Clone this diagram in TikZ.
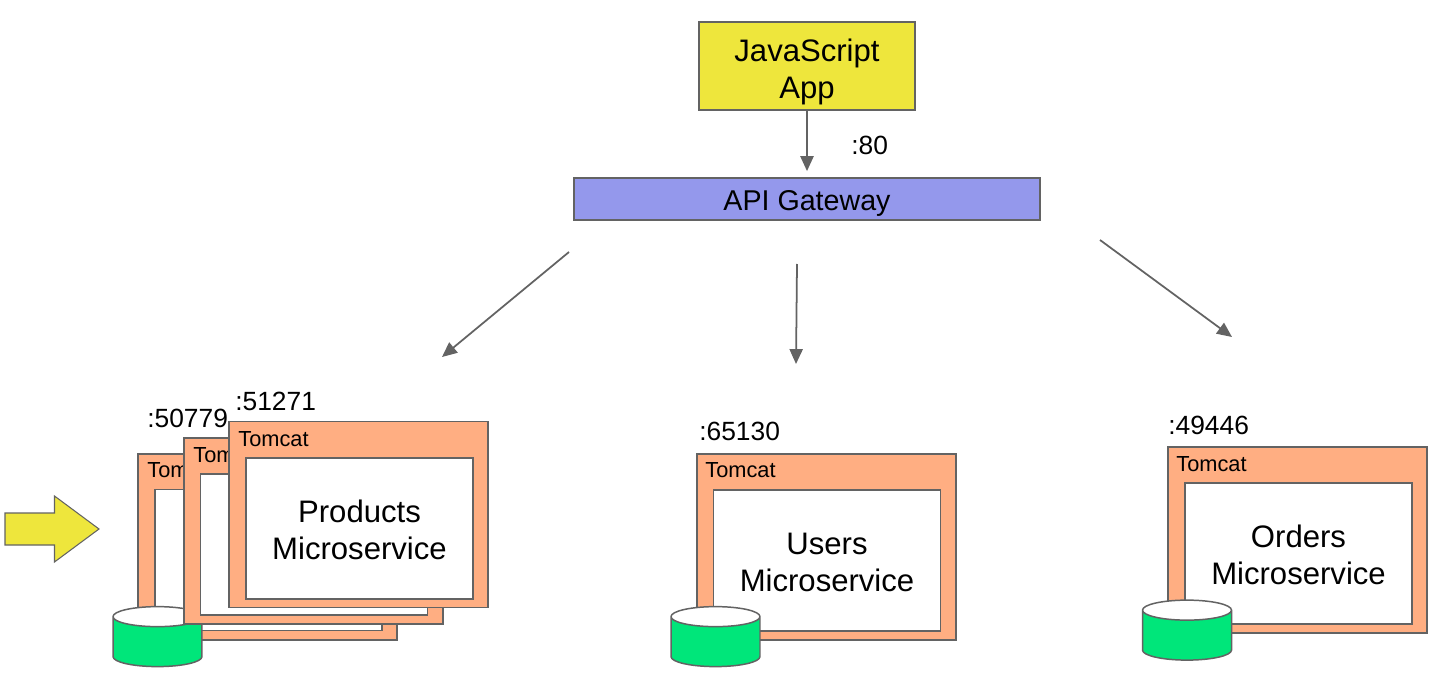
\documentclass[tikz,border=0pt]{standalone}
\usepackage{fontspec}
\setmainfont{Liberation Sans}
\usetikzlibrary{arrows.meta,shapes.geometric}

\definecolor{appyellow}{HTML}{EEE63C}
\definecolor{gatewayblue}{HTML}{9498EC}
\definecolor{tomcatorange}{HTML}{FFAE82}
\definecolor{dbgreen}{HTML}{00E67A}
\definecolor{edgegray}{HTML}{636363}

\tikzset{
  box/.style={draw=edgegray,line width=.85pt,inner sep=0pt,align=center},
  app/.style={box,fill=appyellow,minimum width=4.32cm,minimum height=1.76cm,text height=40.5pt,font=\fontsize{17.7}{21}\selectfont},
  gateway/.style={box,fill=gatewayblue,minimum width=9.32cm,minimum height=.84cm,text height=16.5pt,font=\fontsize{16.3}{20}\selectfont},
  tomcat/.style={box,fill=tomcatorange,minimum width=5.18cm,minimum height=3.72cm},
  service/.style={box,fill=white,minimum width=4.54cm,minimum height=2.82cm,text height=35.6pt,font=\fontsize{17.7}{21.2}\selectfont},
  tomcatlabel/.style={inner sep=0pt,anchor=base west,font=\fontsize{12.4}{14}\selectfont},
  port/.style={inner sep=0pt,anchor=base west,font=\fontsize{15}{18}\selectfont},
  db/.style={cylinder,shape border rotate=90,draw=edgegray,line width=.85pt,inner xsep=.89cm,inner ysep=0pt,
    aspect=.225,minimum height=1.2cm,
    cylinder uses custom fill,cylinder body fill=dbgreen,cylinder end fill=white},
  conn/.style={draw=edgegray,line width=1pt,-{Triangle[length=8.5pt,width=7.5pt]}}
}

\begin{document}
\begin{tikzpicture}[x=.02cm,y=-.02cm]
  \useasboundingbox (0,0) rectangle (1437,675);

  \node [app] (jsapp) at (807,66) {JavaScript\\App};
  \node [gateway] (gw) at (807,199) {API Gateway};
  \node [port] (p80) at (851,155) {:80};
  \draw [conn,shorten >=3.5pt] (jsapp) -- (gw);

  % free ends of the three lower arrows
  \coordinate (a1) at (569,252);
  \coordinate (b1) at (442,357);
  \coordinate (a2) at (797,264);
  \coordinate (b2) at (796,364);
  \coordinate (a3) at (1100,240);
  \coordinate (b3) at (1232,337);
  \foreach \from/\to in {a1/b1, a2/b2, a3/b3}
    \draw [conn] (\from) -- (\to);

  % products stack, back to front
  \node [tomcat] (t1) at (267.5,547) {};
  \node [service] (s1) at (268.5,560) {};
  \node [tomcatlabel] (l1) at (147,478) {Tomcat};
  \node [db] (db1) at (157.5,647) {};
  \node [port] (p1) at (147,428) {:50779};

  \node [tomcat] (t2) at (313.5,531) {};
  \node [service] (s2) at (314,544.5) {};
  \node [tomcatlabel] (l2) at (193,462) {Tomcat};

  \node [tomcat] (t3) at (358.5,514.5) {};
  \node [service] (s3) at (359.5,528.5) {Products\\Microservice};
  \node [tomcatlabel] (l3) at (238,446) {Tomcat};
  \node [port] (p3) at (235,411) {:51271};

  \node [tomcat] (t4) at (826.5,547) {};
  \node [service] (s4) at (827,560.5) {Users\\Microservice};
  \node [tomcatlabel] (l4) at (705,478) {Tomcat};
  \node [port] (p4) at (699,440) {:65130};
  \node [db] (db4) at (715.5,647) {};

  \node [tomcat] (t5) at (1297.5,540) {};
  \node [service] (s5) at (1298.5,553.5) {Orders\\Microservice};
  \node [tomcatlabel] (l5) at (1176,471) {Tomcat};
  \node [port] (p5) at (1168,435) {:49446};
  \node [db] (db5) at (1187,640.5) {};

  % pointer at the stack
  \filldraw [draw=edgegray,fill=appyellow,line width=.6pt]
    (5,513) -- (54.5,513) -- (54.5,496) -- (99,529) -- (54.5,562) -- (54.5,545) -- (5,545) -- cycle;
\end{tikzpicture}
\end{document}
